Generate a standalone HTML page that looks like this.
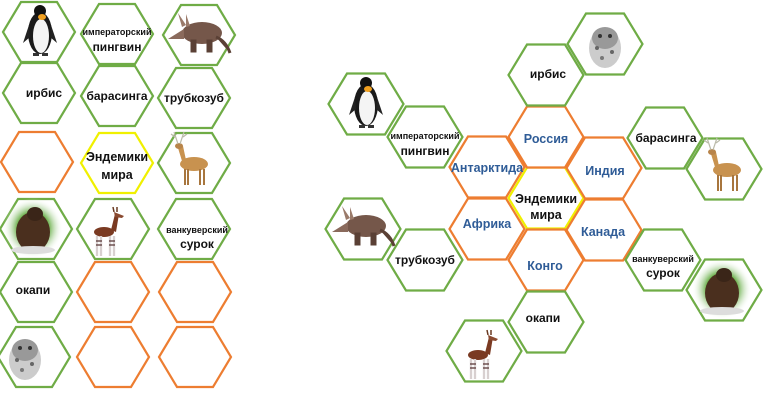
<!DOCTYPE html>
<html><head><meta charset="utf-8"><style>
html,body{margin:0;padding:0;background:#fff;}
svg{display:block;}
text{font-family:"Liberation Sans","DejaVu Sans",sans-serif;font-weight:bold;text-anchor:middle;}
.n{font-size:12px;fill:#111;}
.s{font-size:9px;fill:#111;}
.b{font-size:12.5px;fill:#2f5c97;}
.y{font-size:12.5px;fill:#111;}
</style></head><body>
<svg width="768" height="408" viewBox="0 0 768 408" xmlns="http://www.w3.org/2000/svg">
<defs>
<polygon id="hL" points="-36,0 -18,-30 18,-30 36,0 18,30 -18,30" stroke-width="2.2" fill="#fff"/>
<polygon id="hR" points="-37.5,0 -19,-30.5 19,-30.5 37.5,0 19,30.5 -19,30.5" stroke-width="2.2" fill="#fff"/>
<radialGradient id="gl"><stop offset="0.5" stop-color="#5da83a"/><stop offset="1" stop-color="#fff" stop-opacity="0"/></radialGradient>
<g id="peng">
<ellipse cx="0" cy="2" rx="12" ry="21" fill="#1a1a1a"/>
<ellipse cx="1" cy="5" rx="8" ry="17" fill="#f4f4f4"/>
<ellipse cx="0" cy="-20" rx="6" ry="6" fill="#111"/>
<ellipse cx="2" cy="-14" rx="4" ry="3" fill="#f0a020"/>
<path d="M-11,-6 L-17,12 L-10,6Z M11,-6 L17,12 L10,6Z" fill="#222"/>
<path d="M-7,22 h6 v3 h-6Z M2,22 h6 v3 h-6Z" fill="#333"/>
</g>
<g id="aard">
<ellipse cx="4" cy="0" rx="20" ry="11" fill="#75574a"/>
<path d="M-14,-4 L-30,6 L-14,6Z" fill="#8a6a5c"/>
<path d="M-16,-6 L-20,-20 L-12,-8Z M-12,-6 L-12,-19 L-8,-7Z" fill="#9a7a6a"/>
<path d="M-6,8 v10 h3 v-10Z M10,8 v10 h3 v-10Z M18,4 Q28,8 32,20" stroke="#5a4035" stroke-width="3" fill="#5a4035"/>
</g>
<g id="deer">
<ellipse cx="4" cy="2" rx="14" ry="7" fill="#c8924f"/>
<path d="M-8,-1 L-12,-14 L-7,-16 L-4,-2Z" fill="#c8924f"/>
<ellipse cx="-11" cy="-16" rx="4" ry="3" fill="#b8844a"/>
<path d="M-12,-18 L-16,-30 M-10,-18 L-6,-30 M-15,-25 L-19,-28 M-7,-25 L-3,-28" stroke="#bba" stroke-width="1.2"/>
<path d="M-5,7 v16 M-2,7 v16 M10,7 v16 M14,7 v16" stroke="#a8763e" stroke-width="2"/>
</g>
<g id="marm">
<circle r="30" fill="url(#gl)"/>
<ellipse cx="0" cy="4" rx="17" ry="20" fill="#4a2f1e"/>
<ellipse cx="2" cy="-14" rx="8" ry="7" fill="#3a2518"/>
<ellipse cx="0" cy="22" rx="22" ry="4" fill="#ddd"/>
</g>
<g id="okapi">
<ellipse cx="-2" cy="0" rx="10" ry="5" fill="#7a3a22"/>
<path d="M5,-2 L9,-18 L13,-18 L10,0Z" fill="#7a3a22"/>
<path d="M8,-20 L18,-16 L16,-14 L9,-15Z" fill="#8a4a30"/>
<path d="M8,-20 L7,-25 M11,-20 L11,-25" stroke="#6a3a22" stroke-width="1.5"/>
<path d="M-9,4 v20 M-5,4 v20 M4,4 v20 M8,4 v20" stroke="#d8d0d0" stroke-width="2.3"/>
<path d="M-10,9 h6 M-10,13 h6 M3,9 h6 M3,13 h6" stroke="#533" stroke-width="1.3"/>
</g>
<g id="leop">
<ellipse cx="0" cy="4" rx="16" ry="20" fill="#ccc"/>
<ellipse cx="0" cy="-6" rx="13" ry="11" fill="#999"/>
<circle cx="-5" cy="-8" r="2" fill="#333"/><circle cx="5" cy="-8" r="2" fill="#333"/>
<circle cx="-8" cy="4" r="2" fill="#666"/><circle cx="7" cy="8" r="2" fill="#666"/><circle cx="-3" cy="14" r="2" fill="#777"/>
</g>
</defs>

<!-- LEFT GRID -->
<g stroke="#6fac46">
<use href="#hL" x="39" y="32"/><use href="#hL" x="117" y="34"/><use href="#hL" x="199" y="35"/>
<use href="#hL" x="39" y="93"/><use href="#hL" x="117" y="96"/><use href="#hL" x="194" y="98"/>
<use href="#hL" x="194" y="163"/>
<use href="#hL" x="36" y="229"/><use href="#hL" x="113" y="229"/><use href="#hL" x="194" y="229"/>
<use href="#hL" x="36" y="292"/><use href="#hL" x="34" y="357"/>
</g>
<g stroke="#ed7d31">
<use href="#hL" x="37" y="162"/>
<use href="#hL" x="113" y="292"/><use href="#hL" x="195" y="292"/>
<use href="#hL" x="113" y="357"/><use href="#hL" x="195" y="357"/>
</g>
<use href="#hL" x="117" y="163" fill="#ffff00" stroke="#f0f000"/>

<use href="#peng" x="40" y="31"/>
<text class="s" x="117" y="35">императорский</text><text class="n" x="117" y="51">пингвин</text>
<use href="#aard" x="198" y="33"/>
<text class="n" x="44" y="97">ирбис</text>
<text class="n" x="117" y="100">барасинга</text>
<text class="n" x="194" y="102">трубкозуб</text>
<text class="y" x="117" y="161">Эндемики</text><text class="y" x="117" y="179">мира</text>
<use href="#deer" x="190" y="162"/>
<use href="#marm" x="33" y="228"/>
<use href="#okapi" x="106" y="232"/>
<text class="s" x="197" y="233">ванкуверский</text><text class="n" x="197" y="248">сурок</text>
<text class="n" x="33" y="294">окапи</text>
<use href="#leop" x="25" y="356"/>

<!-- RIGHT DIAGRAM -->
<use href="#hR" x="546" y="198" fill="#ffff00" stroke="#f0f000"/>
<g stroke="#ed7d31" fill="none">
<use href="#hR" x="546" y="137" fill="none"/><use href="#hR" x="604" y="168" fill="none"/><use href="#hR" x="604" y="230" fill="none"/>
<use href="#hR" x="546" y="260" fill="none"/><use href="#hR" x="487" y="229" fill="none"/><use href="#hR" x="487" y="167" fill="none"/>
</g>
<g stroke="#6fac46">
<use href="#hR" x="546" y="75"/><use href="#hR" x="605" y="44"/>
<use href="#hR" x="665" y="138"/><use href="#hR" x="724" y="169"/>
<use href="#hR" x="663" y="260"/><use href="#hR" x="724" y="290"/>
<use href="#hR" x="546" y="322"/><use href="#hR" x="484" y="351"/>
<use href="#hR" x="425" y="260"/><use href="#hR" x="363" y="229"/>
<use href="#hR" x="425" y="137"/><use href="#hR" x="366" y="104"/>
</g>

<text class="b" x="546" y="143">Россия</text>
<text class="b" x="605" y="175">Индия</text>
<text class="b" x="603" y="236">Канада</text>
<text class="b" x="545" y="270">Конго</text>
<text class="b" x="487" y="228">Африка</text>
<text class="b" x="487" y="172">Антарктида</text>
<text class="y" x="546" y="203">Эндемики</text><text class="y" x="546" y="219">мира</text>

<text class="n" x="548" y="78">ирбис</text>
<use href="#leop" x="605" y="44"/>
<text class="n" x="666" y="142">барасинга</text>
<use href="#deer" x="723" y="168"/>
<text class="s" x="663" y="262">ванкуверский</text><text class="n" x="663" y="277">сурок</text>
<use href="#marm" x="722" y="289"/>
<text class="n" x="543" y="322">окапи</text>
<use href="#okapi" x="480" y="355"/>
<text class="n" x="425" y="264">трубкозуб</text>
<use href="#aard" x="362" y="226"/>
<text class="s" x="425" y="139">императорский</text><text class="n" x="425" y="155">пингвин</text>
<use href="#peng" x="366" y="103"/>
</svg>
</body></html>
